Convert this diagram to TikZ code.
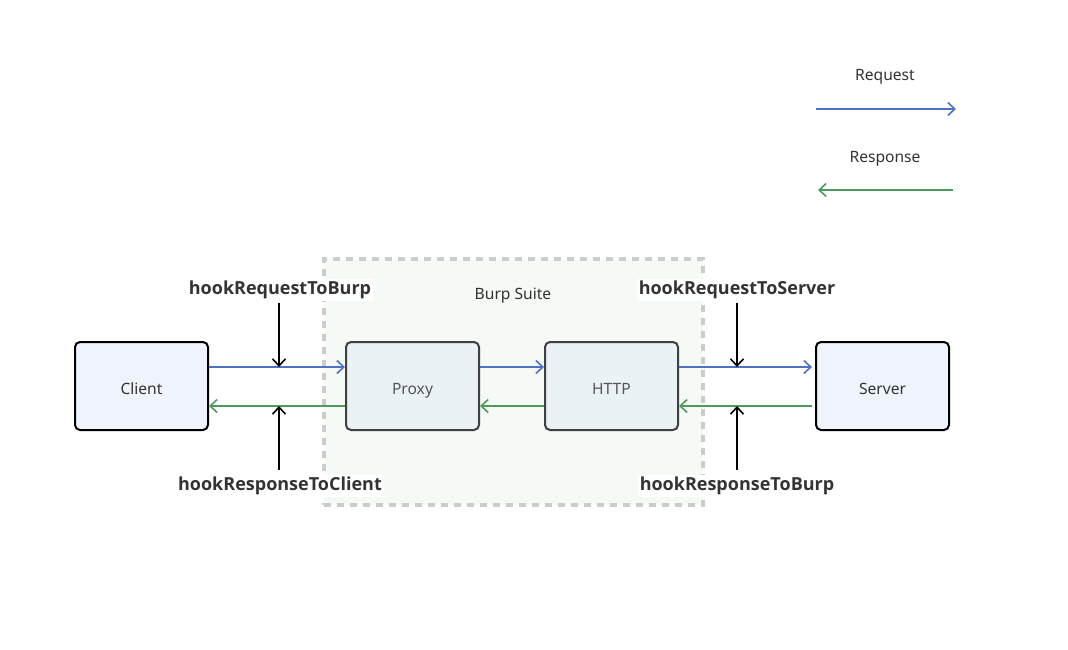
\documentclass[tikz,border=0pt]{standalone}
\usepackage{fontspec}
\setmainfont{Noto Sans}
\newfontfamily\hookfont{Open Sans}
\usetikzlibrary{arrows.meta}
\definecolor{reqblue}{HTML}{4F73C4}
\definecolor{resgreen}{HTML}{4E9A5E}
\definecolor{endfill}{HTML}{EEF3FC}
\definecolor{midfill}{HTML}{EAF2F5}
\definecolor{burpfill}{HTML}{F5FAF6}
\definecolor{burpdash}{HTML}{CCCCCC}
\definecolor{txt}{HTML}{333333}
\definecolor{midtxt}{HTML}{555555}
\begin{document}
\begin{tikzpicture}[x=1pt,y=-1pt,
  boxbase/.style={line width=2pt,rounded corners=5pt,minimum width=133pt,minimum height=88pt,inner sep=0pt,text height=17pt,text depth=1pt,font=\fontsize{15.6}{17}\selectfont},
  endbox/.style={boxbase,draw=black,fill=endfill,text=txt},
  midbox/.style={boxbase,draw=black!75,fill=midfill,text=midtxt},
  hooklabel/.style={fill=white,inner sep=2pt,text=txt,font=\hookfont\fontsize{18}{20}\selectfont\bfseries},
  plain/.style={text=txt,font=\fontsize{15.6}{17}\selectfont},
  tip/.style={-{Straight Barb[length=7pt,width=13pt,line width=1.6pt]}},
  req/.style={draw=reqblue,line width=1.8pt,tip},
  res/.style={draw=resgreen,line width=1.8pt,tip},
  hook/.style={draw=black,line width=1.8pt,tip}]
\useasboundingbox (0,0) rectangle (1068,649);
\fill[white] (0,0) rectangle (1068,649);
% Burp Suite frame
\node[draw=burpdash,fill=burpfill,line width=3.5pt,dash pattern=on 7pt off 6pt,minimum width=379pt,minimum height=246pt,inner sep=0pt] (burp) at (513.5,382) {};
\node[plain] (burplabel) at (513,296) {Burp Suite};
% boxes
\node[endbox] (client) at (141.5,386) {Client};
\node[midbox] (proxy) at (412.5,386) {Proxy};
\node[midbox] (http) at (611.5,386) {HTTP};
\node[endbox] (server) at (882.5,386) {Server};
% request arrows
\draw[req] (client.east |- 0,367) -- (proxy.west |- 0,367);
\draw[req] (proxy.east |- 0,367) -- (http.west |- 0,367);
\draw[req] (http.east |- 0,367) -- ([xshift=-3pt]server.west |- 0,367);
% response arrows
\draw[res] ([xshift=-3pt]server.west |- 0,406) -- (http.east |- 0,406);
\draw[res] (http.west |- 0,406) -- (proxy.east |- 0,406);
\draw[res] (proxy.west |- 0,406) -- (client.east |- 0,406);
% hooks
\node[hooklabel] (h1) at (280,290) {hookRequestToBurp};
\node[hooklabel] (h2) at (280,486) {hookResponseToClient};
\node[hooklabel] (h3) at (737,290) {hookRequestToServer};
\node[hooklabel] (h4) at (737,486) {hookResponseToBurp};
\coordinate (t1) at (279,367);
\coordinate (t2) at (279,406);
\coordinate (t3) at (737,367);
\coordinate (t4) at (737,406);
\draw[hook] (279,303) -- (t1);
\draw[hook] (279,470) -- (t2);
\draw[hook] (737,303) -- (t3);
\draw[hook] (737,470) -- (t4);
% legend
\node[plain] (lreq) at (885,77) {Request};
\node[plain] (lres) at (885,159) {Response};
\coordinate (lr1) at (816,109);
\coordinate (lr2) at (956,109);
\coordinate (ls1) at (953,190);
\coordinate (ls2) at (818,190);
\draw[req] (lr1) -- (lr2);
\draw[res] (ls1) -- (ls2);
\end{tikzpicture}
\end{document}
